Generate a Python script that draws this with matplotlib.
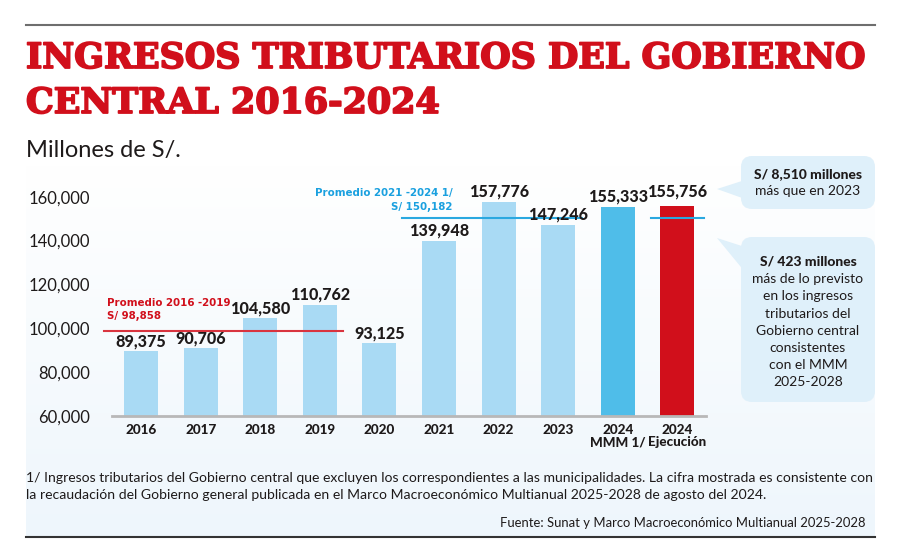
import numpy as np
import matplotlib
matplotlib.use("Agg")
import matplotlib.pyplot as plt
from matplotlib.colors import LinearSegmentedColormap
from matplotlib.patches import FancyBboxPatch, Polygon
from matplotlib import patheffects as pe

# Data
categories = ['2016', '2017', '2018', '2019', '2020', '2021', '2022', '2023',
              '2024\nMMM 1/', '2024\nEjecución']
values = [89375, 90706, 104580, 110762, 93125, 139948, 157776, 147246, 155333, 155756]
avg_2016_2019 = 98858
avg_2021_2024 = 150182
yticks = [60000, 80000, 100000, 120000, 140000, 160000]

title_lines = ['INGRESOS TRIBUTARIOS DEL GOBIERNO', 'CENTRAL 2016-2024']
subtitle = 'Millones de S/.'
note_1 = ('1/ Ingresos tributarios del Gobierno central que excluyen los correspondientes a las '
          'municipalidades. La cifra mostrada es consistente con')
note_2 = ('la recaudación del Gobierno general publicada en el Marco Macroeconómico Multianual '
          '2025-2028 de agosto del 2024.')
source = 'Fuente: Sunat y Marco Macroeconómico Multianual 2025-2028'
box1_bold = 'S/ 8,510 millones'
box1_text = ['más que en 2023']
box2_bold = 'S/ 423 millones'
box2_text = ['más de lo previsto', 'en los ingresos', 'tributarios del',
             'Gobierno central', 'consistentes', 'con el MMM', '2025-2028']

RED = '#d10f1b'
LIGHT = '#a9daf4'
MID = '#4fbde9'
BLUE_TXT = '#1aa0df'
DARK = '#1e1a1a'
FONT = 'Lato'

W, H = 900, 553
fig = plt.figure(figsize=(W / 100, H / 100), dpi=100)

# overlay axes in pixel coordinates
ov = fig.add_axes([0, 0, 1, 1], zorder=0)
ov.set_xlim(0, W)
ov.set_ylim(H, 0)
ov.axis('off')

bg = LinearSegmentedColormap.from_list('bg', ['#ffffff', '#eef6fc'])
ov.imshow(np.linspace(0, 1, 256).reshape(-1, 1), extent=[26, 875, 537, 165],
          cmap=bg, aspect='auto', zorder=0)
ov.plot([26, 875], [25, 25], color='#6e6e6e', lw=1.5)
ov.plot([26, 875], [537, 537], color='#333333', lw=1.5)

renderer = fig.canvas.get_renderer()


def fit_text(t, width_px):
    w = t.get_window_extent(renderer).width
    t.set_fontsize(t.get_fontsize() * width_px / w)


# title
heavy = [pe.Stroke(linewidth=1.3, foreground=RED), pe.Normal()]
t1 = ov.text(26, 68, title_lines[0], color=RED, fontsize=24, fontweight='bold',
             family='DejaVu Serif', va='baseline', ha='left', path_effects=heavy)
fit_text(t1, 842)
ov.text(26, 113, title_lines[1], color=RED, fontsize=t1.get_fontsize(), fontweight='bold',
        family='DejaVu Serif', va='baseline', ha='left', path_effects=heavy)
ov.text(26, 157, subtitle, color=DARK, fontsize=17, family=FONT, va='baseline', ha='left')

# footnotes
n1 = ov.text(26, 478, note_1, color=DARK, fontsize=9.5, family=FONT, va='center', ha='left')
fit_text(n1, 846)
ov.text(26, 495, note_2, color=DARK, fontsize=n1.get_fontsize(), family=FONT,
        va='center', ha='left')
ov.text(866, 523, source, color=DARK, fontsize=n1.get_fontsize() * 0.93, family=FONT,
        va='center', ha='right')

# callout boxes
box_col = '#dff0fa'
ov.add_patch(FancyBboxPatch((741, 156), 134, 53, boxstyle='round,pad=0,rounding_size=11',
                            fc=box_col, ec='none', zorder=2))
ov.add_patch(Polygon([(717, 189), (745, 180), (745, 199)], closed=True, fc=box_col,
                     ec='none', zorder=2))
ov.text(808, 174, box1_bold, color=DARK, fontsize=10, fontweight='black', family=FONT,
        ha='center', va='center', zorder=3)
for i, line in enumerate(box1_text):
    ov.text(808, 191 + i * 17.1, line, color=DARK, fontsize=10, family=FONT,
            ha='center', va='center', zorder=3)

ov.add_patch(FancyBboxPatch((741, 237), 134, 165, boxstyle='round,pad=0,rounding_size=11',
                            fc=box_col, ec='none', zorder=2))
ov.add_patch(Polygon([(717, 238), (745, 247), (745, 272)], closed=True, fc=box_col,
                     ec='none', zorder=2))
ov.text(808, 262, box2_bold, color=DARK, fontsize=10, fontweight='black', family=FONT,
        ha='center', va='center', zorder=3)
for i, line in enumerate(box2_text):
    ov.text(808, 279.3 + i * 17.1, line, color=DARK, fontsize=10, family=FONT,
            ha='center', va='center', zorder=3)

# main chart
left, right = 112, 706
bottom, top = 415.7, 174.8
ax = fig.add_axes([left / W, 1 - bottom / H, (right - left) / W, (bottom - top) / H], zorder=1)
ax.set_facecolor('none')

x = np.arange(len(categories))
colors = [LIGHT] * (len(values) - 2) + [MID, RED]
ax.bar(x, values, width=0.57, color=colors, zorder=2)

ax.set_xlim(-0.487, 9.48)
ax.set_ylim(60000, 170000)
ax.set_yticks(yticks)
ax.set_yticklabels([f'{v:,}' for v in yticks], family=FONT, fontsize=12, color=DARK)
ax.set_xticks(x)
ax.set_xticklabels(categories, family=FONT, fontsize=9.7, fontweight='black', color=DARK,
                   linespacing=1.0)
ax.tick_params(axis='both', length=0)
ax.tick_params(axis='y', pad=16)
ax.tick_params(axis='x', pad=6)
for s in ['top', 'right', 'left']:
    ax.spines[s].set_visible(False)
ax.spines['bottom'].set_color('#b8b8b8')
ax.spines['bottom'].set_linewidth(2)

for i, v in enumerate(values):
    extra = 5 if i == len(values) - 1 else 1.5
    ax.annotate(f'{v:,}', (x[i], v), xytext=(0, extra), textcoords='offset points',
                ha='center', va='bottom', family=FONT, fontsize=11.6,
                fontweight='black', color=DARK, zorder=4)

# average lines
cond = dict(family='DejaVu Sans', stretch='condensed', fontweight='bold', fontsize=8.2)
ax.plot([x[0] - 0.62, x[3] + 0.39], [avg_2016_2019] * 2, color='#d9343f', lw=1.5,
        zorder=3, clip_on=False)
ax.annotate('Promedio 2016 -2019', (x[0] - 0.57, avg_2016_2019), xytext=(0, 20),
            textcoords='offset points', ha='left', va='center', color=RED,
            annotation_clip=False, **cond)
ax.annotate(f'S/ {avg_2016_2019:,}', (x[0] - 0.57, avg_2016_2019), xytext=(0, 10.3),
            textcoords='offset points', ha='left', va='center', color=RED,
            annotation_clip=False, **cond)

ax.plot([x[5] - 0.62, x[7] + 0.40], [avg_2021_2024] * 2, color='#2aa8e0', lw=1.5,
        zorder=3)
ax.plot([x[9] - 0.44, x[9] + 0.45], [avg_2021_2024] * 2, color='#2aa8e0', lw=1.5,
        zorder=3)
ax.annotate('Promedio 2021 -2024 1/', (x[5] + 0.23, avg_2021_2024), xytext=(0, 18),
            textcoords='offset points', ha='right', va='center', color=BLUE_TXT, **cond)
ax.annotate(f'S/ {avg_2021_2024:,}', (x[5] + 0.23, avg_2021_2024), xytext=(0, 8),
            textcoords='offset points', ha='right', va='center', color=BLUE_TXT, **cond)

fig.savefig('out.png', dpi=100)
